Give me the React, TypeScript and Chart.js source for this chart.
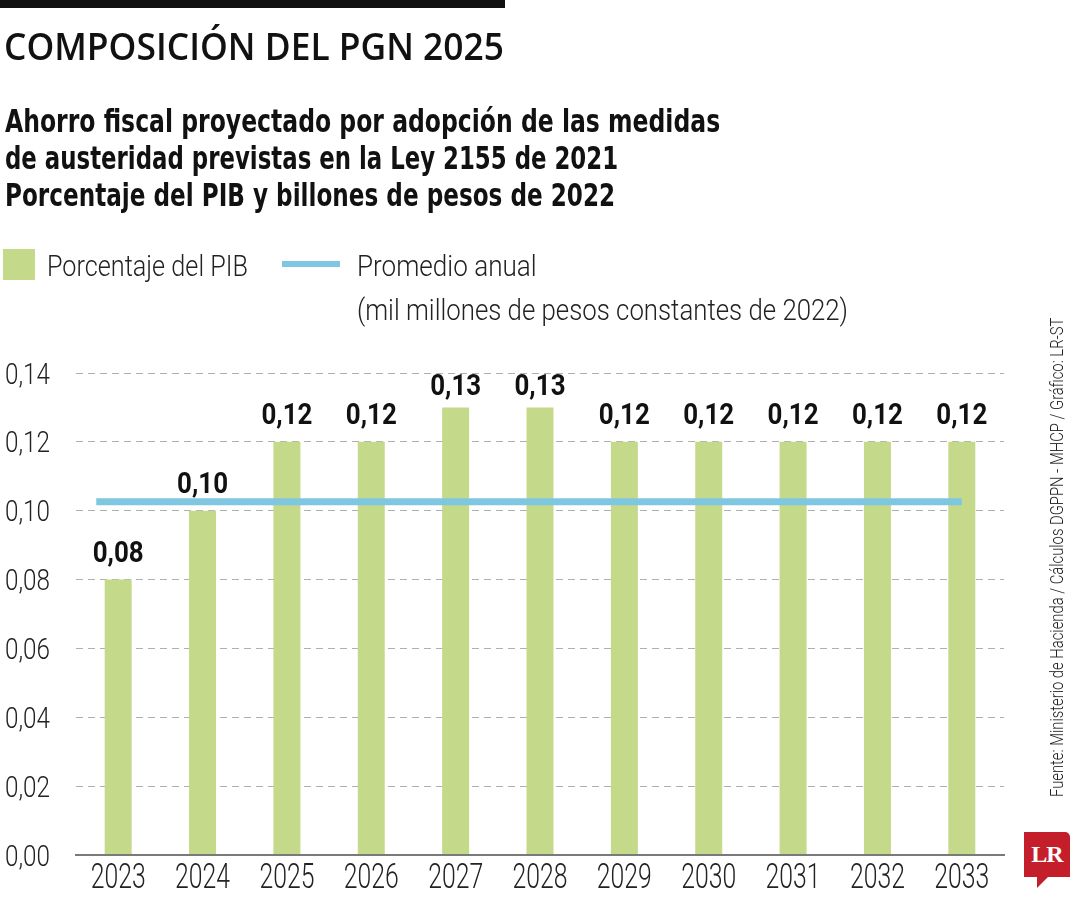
import React, { useEffect, useLayoutEffect, useRef, useState } from "react";
import { Chart, registerables } from "chart.js";

Chart.register(...registerables);

// ---------- data ----------
const years = ["2023", "2024", "2025", "2026", "2027", "2028", "2029", "2030", "2031", "2032", "2033"];
const pibValues = [0.08, 0.1, 0.12, 0.12, 0.13, 0.13, 0.12, 0.12, 0.12, 0.12, 0.12];
const promedioValue = 0.1026;
const promedioSpan = [-0.26, 10]; // x-index span of the average line
const yMin = 0;
const yMax = 0.14;
const yStep = 0.02;

const titleText = "COMPOSICIÓN DEL PGN 2025";
const subtitleLines = [
  "Ahorro fiscal proyectado por adopción de las medidas",
  "de austeridad previstas en la Ley 2155 de 2021",
  "Porcentaje del PIB y billones de pesos de 2022",
];
const legendBar = "Porcentaje del PIB";
const legendLine1 = "Promedio anual";
const legendLine2 = "(mil millones de pesos constantes de 2022)";
const sourceText = "Fuente: Ministerio de Hacienda / Cálculos DGPPN - MHCP / Gráfico: LR-ST";

// ---------- style ----------
const GREEN = "#c5d98a";
const BLUE = "#7fc7e1";
const COND = '"Liberation Sans Narrow", "DejaVu Sans Condensed", "Roboto", sans-serif';
const LIGHT = 'Roboto, "Noto Sans", sans-serif';
const WIDE = '"Open Sans", "Lato", sans-serif';

const fmt = (v: number) => v.toFixed(2).replace(".", ",");

function FitText(props: { text: string; width: number; style: React.CSSProperties }) {
  const ref = useRef<HTMLSpanElement>(null);
  const [sx, setSx] = useState(1);
  useLayoutEffect(() => {
    if (ref.current) {
      const w = ref.current.offsetWidth;
      if (w > 0) setSx(props.width / w);
    }
  }, [props.text, props.width]);
  return (
    <span
      ref={ref}
      style={{
        display: "inline-block",
        whiteSpace: "nowrap",
        transformOrigin: "left top",
        transform: `scaleX(${sx})`,
        ...props.style,
      }}
    >
      {props.text}
    </span>
  );
}

// draw horizontally condensed text on canvas
function drawText(
  ctx: CanvasRenderingContext2D,
  text: string,
  x: number,
  y: number,
  align: "left" | "center" | "right",
  font: string,
  sx: number,
  color: string
) {
  ctx.save();
  ctx.font = font;
  ctx.fillStyle = color;
  ctx.textAlign = "left";
  ctx.textBaseline = "alphabetic";
  const w = ctx.measureText(text).width * sx;
  const left = align === "center" ? x - w / 2 : align === "right" ? x - w : x;
  ctx.translate(left, y);
  ctx.scale(sx, 1);
  ctx.fillText(text, 0, 0);
  ctx.restore();
}

function fitScale(ctx: CanvasRenderingContext2D, font: string, sample: string, target: number) {
  ctx.save();
  ctx.font = font;
  const w = ctx.measureText(sample).width;
  ctx.restore();
  return w > 0 ? target / w : 1;
}

const textPlugin = {
  id: "condensedText",
  afterDraw(chart: any) {
    const ctx: CanvasRenderingContext2D = chart.ctx;
    const xs = chart.scales.x;
    const ys = chart.scales.y;
    const area = chart.chartArea;

    // y tick labels
    const yFont = `300 29px ${LIGHT}`;
    const ySx = fitScale(ctx, yFont, "0,14", 45);
    ys.ticks.forEach((t: any) => {
      const py = ys.getPixelForValue(t.value);
      drawText(ctx, fmt(t.value), area.left - 26, py + 10.5, "right", yFont, ySx, "#222");
    });

    // x labels
    const xFont = `300 35px ${LIGHT}`;
    const xSx = fitScale(ctx, xFont, "2023", 55);
    years.forEach((yr, i) => {
      const px = xs.getPixelForValue(i);
      drawText(ctx, yr, px, area.bottom + 33, "center", xFont, xSx, "#222");
    });

    // bar value labels
    const bFont = `700 29px ${LIGHT}`;
    const bSx = fitScale(ctx, bFont, "0,13", 51);
    const meta = chart.getDatasetMeta(0);
    meta.data.forEach((el: any, i: number) => {
      const by = Math.max(el.y - 18, area.top + 22);
      drawText(ctx, fmt(pibValues[i]), el.x, by, "center", bFont, bSx, "#111");
    });
  },
};

function ChartCanvas() {
  const ref = useRef<HTMLCanvasElement>(null);
  useEffect(() => {
    if (!ref.current) return;
    const chart = new Chart(ref.current, {
      type: "bar",
      data: {
        datasets: [
          {
            type: "bar",
            label: legendBar,
            data: pibValues.map((v, i) => ({ x: i, y: v })),
            backgroundColor: GREEN,
            barPercentage: 0.32,
            categoryPercentage: 1,
            grouped: false,
            order: 1,
          } as any,
          {
            type: "line",
            label: legendLine1,
            data: [
              { x: promedioSpan[0], y: promedioValue },
              { x: promedioSpan[1], y: promedioValue },
            ],
            borderColor: BLUE,
            borderWidth: 7,
            borderCapStyle: "butt",
            pointRadius: 0,
            fill: false,
            order: 0,
          } as any,
        ],
      },
      options: {
        animation: false,
        responsive: false,
        devicePixelRatio: 1,
        layout: { padding: { top: 373, left: 0, right: 76, bottom: 0 } },
        plugins: {
          legend: { display: false },
          tooltip: { enabled: false },
        },
        scales: {
          x: {
            type: "linear",
            offset: false,
            min: -0.5,
            max: 10.5,
            grid: { display: false, drawTicks: false },
            border: { display: true, color: "#7a7a7a", width: 2, z: 1 },
            ticks: { display: false },
            afterBuildTicks: (s: any) => {
              s.ticks = years.map((_, i) => ({ value: i }));
            },
            afterFit: (s: any) => {
              s.height = 45;
            },
          },
          y: {
            type: "linear",
            min: yMin,
            max: yMax,
            grid: {
              drawTicks: false,
              color: (c: any) => (c.tick && c.tick.value === 0 ? "rgba(0,0,0,0)" : "#b0b0b0"),
              lineWidth: 1,
            },
            border: { display: false, dash: [7, 5] },
            ticks: { display: false, stepSize: yStep },
            afterFit: (s: any) => {
              s.width = 76;
            },
          },
        },
      },
      plugins: [textPlugin],
    });
    return () => chart.destroy();
  }, []);
  return (
    <canvas
      ref={ref}
      width={1080}
      height={900}
      style={{ position: "absolute", left: 0, top: 0, width: 1080, height: 900 }}
    />
  );
}

const legendStyle: React.CSSProperties = {
  fontFamily: LIGHT,
  fontWeight: 300,
  fontSize: 30,
  lineHeight: "32px",
  color: "#222",
};

export default function App() {
  return (
    <div
      style={{
        position: "absolute",
        left: 0,
        top: 0,
        width: 1080,
        height: 900,
        background: "#fff",
        overflow: "hidden",
        color: "#111",
      }}
    >
      <ChartCanvas />
      {/* top rule */}
      <div style={{ position: "absolute", left: 0, top: 0, width: 505, height: 8, background: "#111" }} />
      {/* title */}
      <div style={{ position: "absolute", left: 4, top: 23, lineHeight: "44px" }}>
        <FitText
          text={titleText}
          width={500}
          style={{ fontFamily: WIDE, fontWeight: 600, fontSize: 38, lineHeight: "44px" }}
        />
      </div>
      {/* subtitle */}
      {subtitleLines.map((t, i) => (
        <div key={i} style={{ position: "absolute", left: 5, top: 103 + i * 37, lineHeight: "37px" }}>
          <FitText
            text={t}
            width={[715, 613, 610][i]}
            style={{ fontFamily: COND, fontWeight: 700, fontSize: 32, lineHeight: "37px" }}
          />
        </div>
      ))}
      {/* legend */}
      <div style={{ position: "absolute", left: 3, top: 249, width: 32, height: 31, background: GREEN }} />
      <div style={{ position: "absolute", left: 47, top: 250, lineHeight: "32px" }}>
        <FitText text={legendBar} width={201} style={legendStyle} />
      </div>
      <div style={{ position: "absolute", left: 282, top: 261, width: 58, height: 6, background: BLUE }} />
      <div style={{ position: "absolute", left: 357, top: 250, lineHeight: "32px" }}>
        <FitText text={legendLine1} width={180} style={legendStyle} />
      </div>
      <div style={{ position: "absolute", left: 357, top: 294, lineHeight: "32px" }}>
        <FitText text={legendLine2} width={491} style={legendStyle} />
      </div>
      {/* source, vertical */}
      <div
        style={{
          position: "absolute",
          left: 1046,
          top: 797,
          transform: "rotate(-90deg)",
          transformOrigin: "left top",
          lineHeight: "22px",
        }}
      >
        <FitText
          text={sourceText}
          width={479}
          style={{ fontFamily: LIGHT, fontWeight: 300, fontSize: 18, lineHeight: "22px", color: "#222" }}
        />
      </div>
      {/* LR logo */}
      <div
        style={{
          position: "absolute",
          left: 1024,
          top: 832,
          width: 46,
          height: 45,
          background: "#c41e2a",
          borderTopRightRadius: 5,
          color: "#fff",
          fontFamily: '"Liberation Serif", "DejaVu Serif", serif',
          fontWeight: 700,
          fontSize: 24,
          lineHeight: "45px",
          textAlign: "center",
          letterSpacing: -1,
        }}
      >
        LR
      </div>
      <div
        style={{
          position: "absolute",
          left: 1037,
          top: 877,
          width: 0,
          height: 0,
          borderRight: "11px solid transparent",
          borderTop: "11px solid #c41e2a",
        }}
      />
    </div>
  );
}
